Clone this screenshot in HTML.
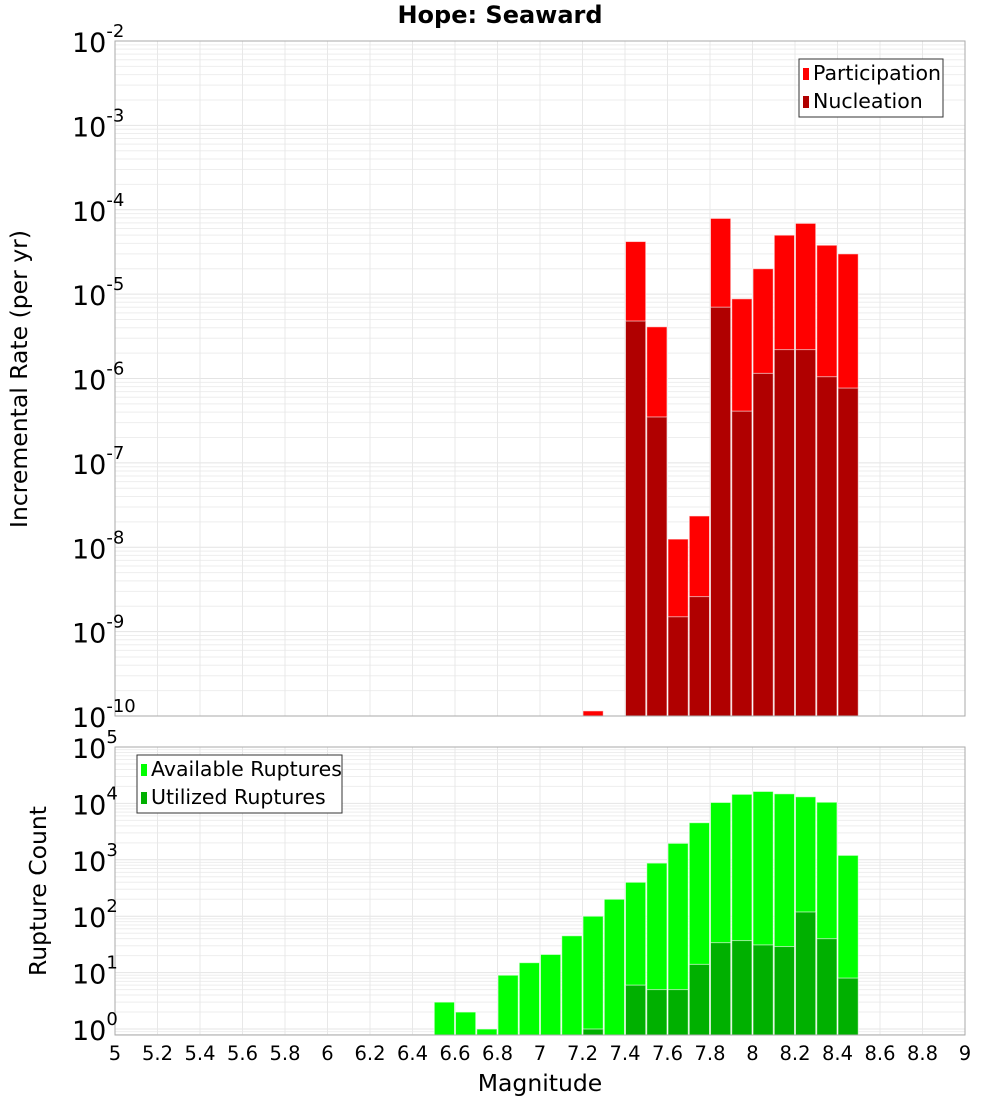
<!DOCTYPE html>
<html><head><meta charset="utf-8"><style>
body{margin:0;background:#fff;}
svg{display:block;font-family:"DejaVu Sans","Liberation Sans",sans-serif;}
</style></head><body>
<svg id="c" width="1000" height="1100"></svg>
<script>
const mags=[7.25,7.45,7.55,7.65,7.75,7.85,7.95,8.05,8.15,8.25,8.35,8.45];
const participation=[1.15e-10,4.2e-5,4.1e-6,1.25e-8,2.35e-8,7.9e-5,8.8e-6,2.0e-5,5.0e-5,6.9e-5,3.8e-5,3.0e-5];
const nucleation=[0,4.8e-6,3.5e-7,1.5e-9,2.6e-9,7.0e-6,4.1e-7,1.15e-6,2.2e-6,2.2e-6,1.05e-6,7.7e-7];
const countMags=[6.55,6.65,6.75,6.85,6.95,7.05,7.15,7.25,7.35,7.45,7.55,7.65,7.75,7.85,7.95,8.05,8.15,8.25,8.35,8.45];
const available=[3,2,1,9,15,21,45,100,200,400,875,1960,4550,10400,14500,16300,14800,13100,10500,1200];
const utilized=[0,0,0,0,0,0,0,1,0,6,5,5,14,34,37,31,29,119,40,8];
const xTicks=[5,5.2,5.4,5.6,5.8,6,6.2,6.4,6.6,6.8,7,7.2,7.4,7.6,7.8,8,8.2,8.4,8.6,8.8,9];
const topExps=[-10,-9,-8,-7,-6,-5,-4,-3,-2];
const botExps=[0,1,2,3,4,5];

const NS="http://www.w3.org/2000/svg", svg=document.getElementById('c');
function el(t,a,p){const e=document.createElementNS(NS,t);for(const k in a)e.setAttribute(k,a[k]);(p||svg).appendChild(e);return e;}
const X0=115,X1=965;
const xs=v=>X0+(v-5)/4*(X1-X0);
const T={top:41,bot:716,lo:-10,hi:-2};
const B={top:747,bot:1035,lo:-0.106,hi:5};
const ys=(P,v)=>P.bot-(Math.log10(v)-P.lo)/(P.hi-P.lo)*(P.bot-P.top);

function grid(P,exps,name){
  const g=el('g',{});
  
  for(let e=Math.floor(P.lo);e<=P.hi;e++)for(let m=1;m<10;m++){
    const v=m*Math.pow(10,e);const y=ys(P,v);
    if(y<P.top-0.5||y>P.bot+0.5)continue;
    el('line',{x1:X0,x2:X1,y1:y,y2:y,stroke:m==1?'#e4e4e4':'#eeeeee','stroke-width':1},g);
  }
  xTicks.forEach(t=>{const x=xs(t);el('line',{x1:x,x2:x,y1:P.top,y2:P.bot,stroke:'#e8e8e8'},g);});
}
function ylabels(P,exps,name){
  exps.forEach(e=>{const y=ys(P,Math.pow(10,e));
    const t=el('text',{x:72,y:y+11,'font-size':27,fill:'#000'});
    
    t.textContent='10';
    const s=el('tspan',{dy:-15,'font-size':18},t);s.textContent=String(e);
  });
}
function bars(P,cats,vals,color,name){
  cats.forEach((m,i)=>{const v=vals[i];if(!(v>0))return;
    const x=xs(m-0.05),w=xs(m+0.05)-x;let y=ys(P,v);if(y<P.top)y=P.top;
    const r=el('rect',{x:x+0.5,y:y,width:w-1,height:P.bot-y,fill:color,stroke:'rgba(255,255,255,0.6)','stroke-width':1});
    
  });
}
grid(T,topExps,'rate');grid(B,botExps,'count');
bars(T,mags,participation,'#ff0000','participation-bar');
bars(T,mags,nucleation,'#b00000','nucleation-bar');
bars(B,countMags,available,'#00ff00','available-bar');
bars(B,countMags,utilized,'#00b000','utilized-bar');
[T,B].forEach((P,i)=>{const r=el('rect',{x:X0,y:P.top,width:X1-X0,height:P.bot-P.top,fill:'none',stroke:'#aaa'});
 });
ylabels(T,topExps,'rate-y');ylabels(B,botExps,'count-y');
xTicks.forEach(t=>{const tx=el('text',{x:xs(t),y:1060,'font-size':19.5,'text-anchor':'middle'});
 tx.textContent=String(t);});
function txt(s,a,name){const t=el('text',a);t.textContent=s;return t;}
txt('Hope: Seaward',{x:500,y:23,'font-size':24,'font-weight':'bold','text-anchor':'middle'},'chart-title');
txt('Magnitude',{x:540,y:1091,'font-size':23.5,'text-anchor':'middle'},'x-axis-title');
txt('Incremental Rate (per yr)',{x:0,y:0,'font-size':23.5,'text-anchor':'middle',transform:'translate(27,379) rotate(-90)'},'rate-y-axis-title');
txt('Rupture Count',{x:0,y:0,'font-size':23.5,'text-anchor':'middle',transform:'translate(46,891) rotate(-90)'},'count-y-axis-title');
function legend(x,y,w,items,name){
  const g=el('g',{});
  el('rect',{x:x,y:y,width:w,height:58,fill:'#fff',stroke:'#333'},g);
  items.forEach((it,i)=>{el('rect',{x:x+4,y:y+9+i*28,width:6,height:12,fill:it[1]},g);
    const t=el('text',{x:x+14,y:y+21+i*28,'font-size':20.5},g);t.textContent=it[0];
    });
}
legend(799,59,144,[['Participation','#ff0000'],['Nucleation','#b00000']],'rate-legend');
legend(137,755,205,[['Available Ruptures','#00ff00'],['Utilized Ruptures','#00b000']],'count-legend');
</script>
</body></html>
